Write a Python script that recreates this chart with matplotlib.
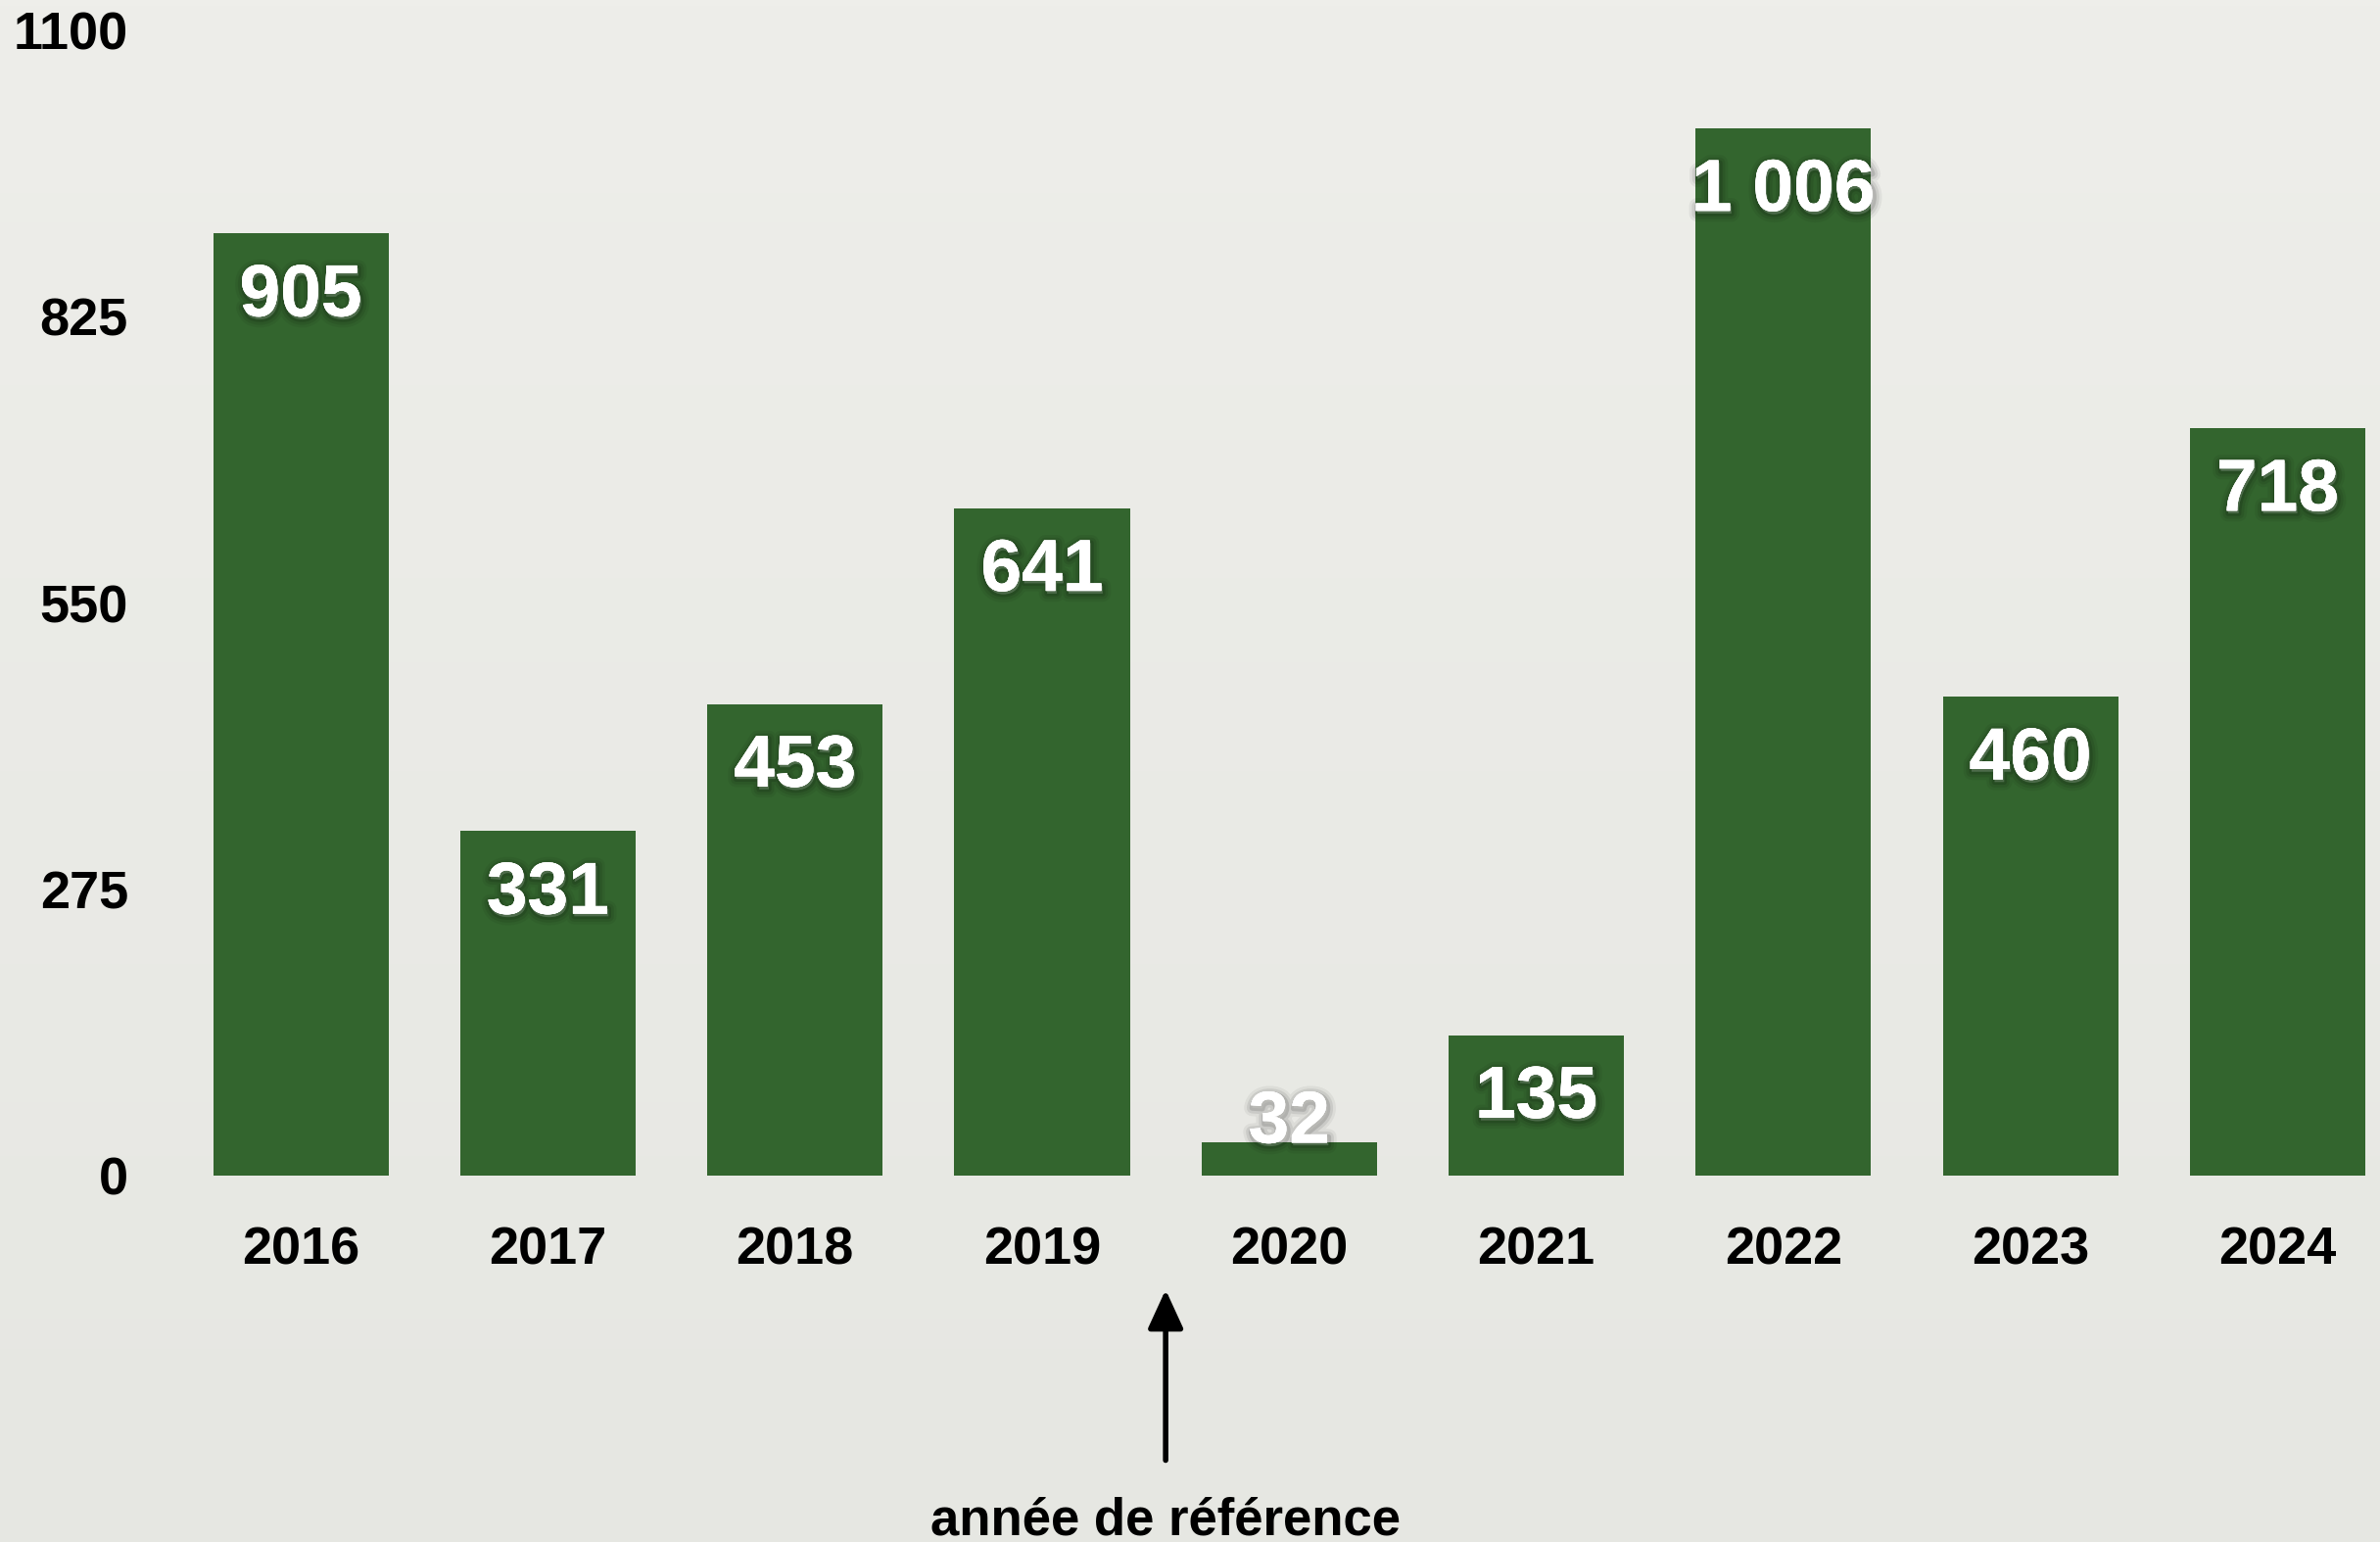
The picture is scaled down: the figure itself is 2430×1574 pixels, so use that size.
import numpy as np
import matplotlib.pyplot as plt
import matplotlib.patheffects as pe
from matplotlib import font_manager

years = ['2016', '2017', '2018', '2019', '2020', '2021', '2022', '2023', '2024']
values = [905, 331, 453, 641, 32, 135, 1006, 460, 718]
labels = ['905', '331', '453', '641', '32', '135', '1 006', '460', '718']
yticks = [0, 275, 550, 825, 1100]

names = {f.name for f in font_manager.fontManager.ttflist}
fam = ['Liberation Sans Narrow', 'DejaVu Sans'] if 'Liberation Sans Narrow' in names else ['Liberation Sans', 'DejaVu Sans']
plt.rcParams['font.family'] = fam

bar_col = '#33652E'

fig = plt.figure(figsize=(24.3, 15.74), dpi=100)

# fond degrade clair
bg = fig.add_axes([0, 0, 1, 1], zorder=-1)
grad = np.linspace(0, 1, 256).reshape(-1, 1)
top = np.array([238, 238, 234]) / 255
bot = np.array([230, 231, 226]) / 255
img = top * (1 - grad)[..., None] + bot * grad[..., None]
bg.imshow(img, aspect='auto', extent=[0, 1, 0, 1])
bg.axis('off')

left = 181 / 2430
ax = fig.add_axes([left, 374 / 1574, 1 - left, (1543 - 374) / 1574])
ax.patch.set_alpha(0)

x = np.arange(len(years))
ax.bar(x, values, width=0.71, color=bar_col, zorder=2)

# ombre douce autour des chiffres
glow = [pe.withStroke(linewidth=w, foreground='black', alpha=a, offset=(1, -2))
        for w, a in [(12, 0.05), (8, 0.08), (4, 0.12)]]
shadow = glow + [pe.Normal()]
for xi, v, lab in zip(x, values, labels):
    ax.text(xi, max(v - 61, 50), lab, ha='center', va='center', color='white',
            fontsize=54, fontweight='bold', path_effects=shadow, zorder=3)

ax.set_xlim(-0.5, (2430 - 307) / 252.3)
ax.set_ylim(0, 1100)
ax.set_yticks(yticks)
ax.set_yticklabels([str(t) for t in yticks], fontsize=39, fontweight='bold')
ax.set_xticks(x)
ax.set_xticklabels(years, fontsize=39, fontweight='bold')
ax.tick_params(axis='y', length=0, pad=36)
ax.tick_params(axis='x', length=0, pad=37)
for s in ax.spines.values():
    s.set_visible(False)

# fleche annee de reference
ax.annotate('', xy=(3.5, -107), xytext=(3.5, -276), annotation_clip=False,
            arrowprops=dict(arrowstyle='-|>,head_length=2.4,head_width=1.1', color='black', lw=4))
ax.text(3.5, -332, 'année de référence', ha='center', va='center', fontsize=38,
        fontweight='bold', clip_on=False)

fig.savefig('out.png', dpi=100)
